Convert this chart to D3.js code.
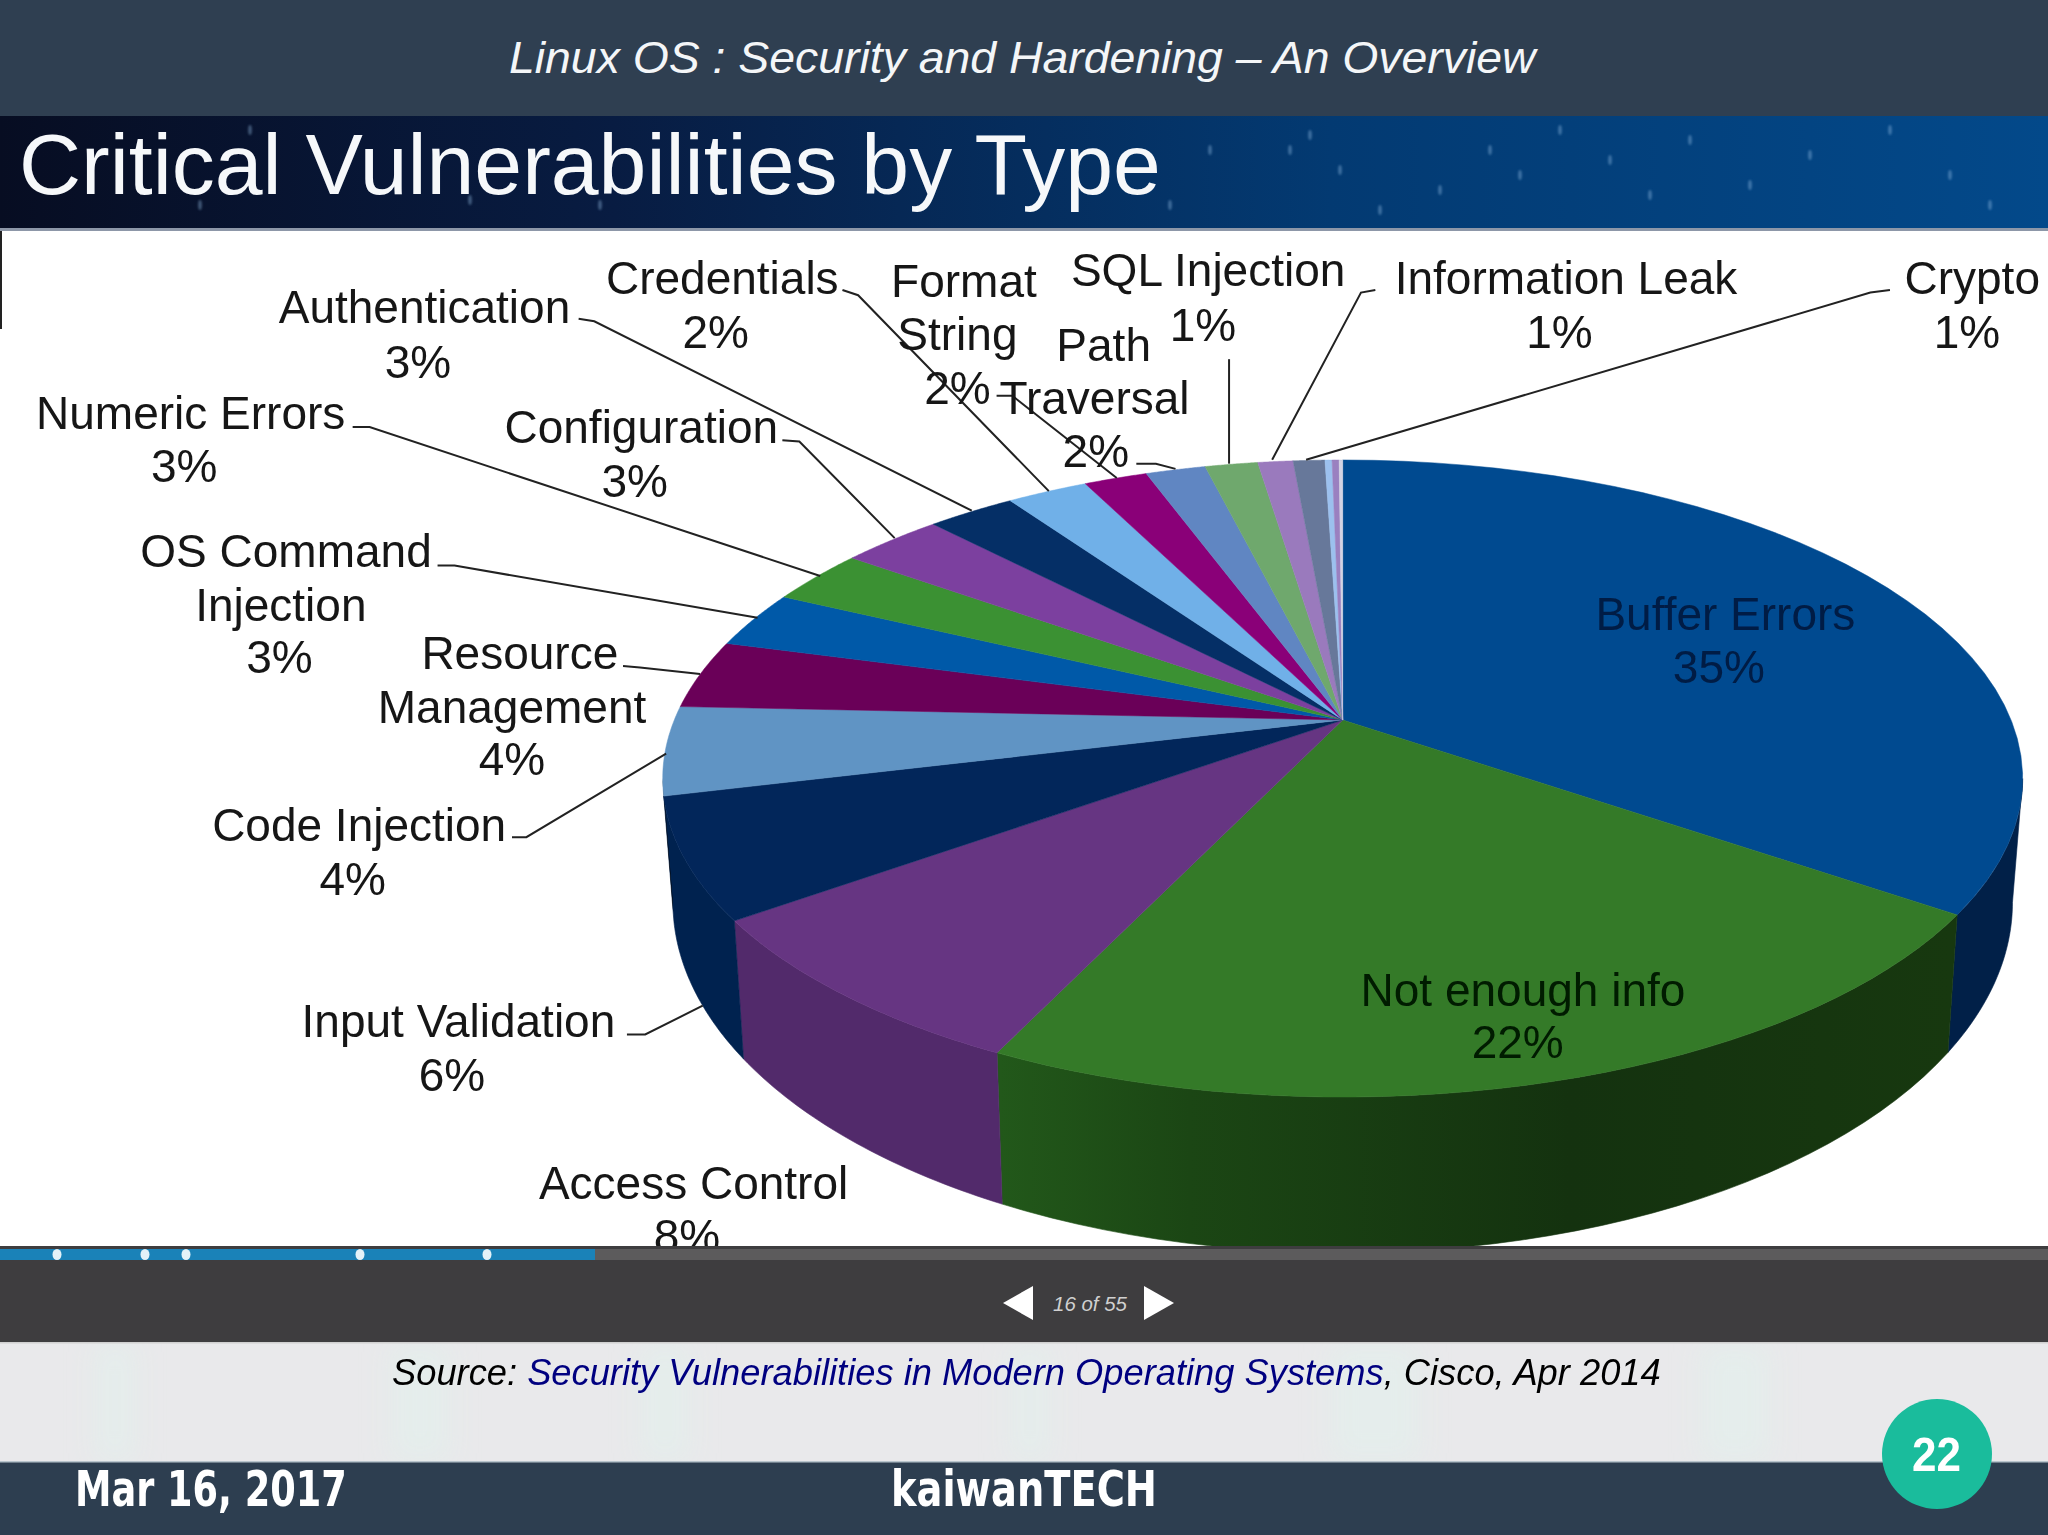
<!DOCTYPE html>
<html><head><meta charset="utf-8">
<script src="https://cdn.jsdelivr.net/npm/d3@7"></script>
<style>html,body{margin:0;padding:0;background:#fff}svg{display:block}text{font-family:"Liberation Sans",Arial,sans-serif}</style>
</head><body><svg id="c" width="2048" height="1535"></svg>
<script>
// ---- data ----
const sliceNames = ["Buffer Errors","Not enough info","Access Control","Input Validation","Code Injection","Resource Management","OS Command Injection","Numeric Errors","Configuration","Authentication","Credentials","Format String","Path Traversal","SQL Injection","Information Leak","Crypto","Other A","Other B","Other C"];
const sliceValues = [34.6,22.5,8.0,6.1,4.5,3.5,2.9,2.8,2.9,2.5,2.3,1.8,1.7,1.5,1.0,0.9,0.2,0.2,0.1];
const sliceColors = ["#004a90","#347a28","#663582","#02265a","#6094c4","#6a0058","#0059a8","#3b9133","#7c409f","#052f66","#70b0e8","#8a0078","#6086c2","#6fa86d","#9a7abd","#67789a","#9cc0ee","#9a80c0","#d4d4e4"];
const wallColors  = ["#012048","url(#greenWall)","#522a6b","#00224f"];
const labelLines = [
 ["Authentication","3%"],["Credentials","2%"],["Format","String","2%"],["SQL Injection","1%"],["Path","Traversal","2%"],["Information Leak","1%"],["Crypto","1%"],["Numeric Errors","3%"],["Configuration","3%"],["OS Command","Injection","3%"],["Resource","Management","4%"],["Code Injection","4%"],["Input Validation","6%"],["Access Control","8%"],["Buffer Errors","35%"],["Not enough info","22%"]];
// ---- layout (in the 1568-wide coordinates the slide was read in) ----
const labelCenters = [
 [[325,235],[320,277]],[[553,213],[548,254]],[[738,215],[733,256],[733,297]],[[925,207],[921,249]],[[845,264],[838,305],[839,345]],[[1199,213],[1194,254]],[[1510,213],[1506,254]],[[146,316],[141,357]],[[491,327],[486,368]],[[219,422],[215,463],[214,503]],[[398,500],[392,541],[392,581]],[[275,632],[270,673]],[[351,782],[346,823]],[[531,906],[526,946]],[[1321,470],[1316,511]],[[1166,758],[1162,798]]];
const leaders = [
 [[443,244],[455,246],[744,391]],[[645,222],[657,226],[803,376]],[[763,303],[775,303],[855,366]],[[870,355],[885,355],[900,359]],[[941,275],[941,355]],[[1053,222],[1042,224],[974,352]],[[1447,222],[1432,224],[1000,352]],[[270,327],[283,327],[628,441]],[[599,337],[612,338],[685,412]],[[335,433],[348,433],[580,473]],[[477,510],[490,511],[536,516]],[[392,641],[403,641],[510,577]],[[480,792],[494,792],[538,770]]];
const progressDots = [57,145,186,360,487];
const stars = [[1290,150],[1310,135],[1340,170],[1440,190],[1490,150],[1520,175],[1560,130],[1610,160],[1650,195],[1690,140],[1750,185],[1810,155],[1890,130],[1950,175],[1990,205],[200,205],[250,130],[470,200],[600,205],[1210,150],[1170,205],[1380,210]];
const bandStreaks = [[95,40],[390,60],[640,50],[1010,40],[1330,90],[1700,70]];

const svg = d3.select("#c");
const px = d3.scaleLinear().domain([0,1568]).range([0,2048]);
const defs = svg.append("defs");
const g1 = defs.append("linearGradient").attr("id","banner");
[[0,"#070d22"],[.3,"#081c42"],[.65,"#033a72"],[1,"#03498a"]].forEach(s=>g1.append("stop").attr("offset",s[0]).attr("stop-color",s[1]));
const g2 = defs.append("linearGradient").attr("id","greenWall").attr("gradientUnits","userSpaceOnUse").attr("x1",1000).attr("x2",1950).attr("y1",0).attr("y2",0);
[[0,"#22581a"],[.2,"#1b4614"],[.6,"#14320f"],[1,"#17380f"]].forEach(s=>g2.append("stop").attr("offset",s[0]).attr("stop-color",s[1]));
defs.append("filter").attr("id","soft").append("feGaussianBlur").attr("stdDeviation",.55);
defs.append("filter").attr("id","star").append("feGaussianBlur").attr("stdDeviation",1.1);
defs.append("filter").attr("id","wide").attr("x","-100%").attr("width","300%").append("feGaussianBlur").attr("stdDeviation",14);

function fit(sel,x,y,w){ // stretch a text to the width
  const len = sel.node().getComputedTextLength();
  sel.attr("transform",`translate(${x},${y}) scale(${w/len},1)`);
}
svg.append("rect").attr("width",2048).attr("height",1535).attr("fill","#fff");
// header
svg.append("rect").attr("width",2048).attr("height",116).attr("fill","#2f3f51");
fit(svg.append("text").text("Linux OS : Security and Hardening \u2013 An Overview").attr("font-size",44).attr("font-style","italic").attr("fill","#f4f6f8"),509,73,1027);
// banner
svg.append("rect").attr("y",116).attr("width",2048).attr("height",113).attr("fill","url(#banner)");
svg.append("g").attr("filter","url(#star)").selectAll("ellipse").data(stars).join("ellipse").attr("cx",d=>d[0]).attr("cy",d=>d[1]).attr("rx",1.8).attr("ry",5).attr("fill","#9cc4e8").attr("opacity",.4);
svg.append("rect").attr("y",228).attr("width",2048).attr("height",3).attr("fill","#8d97a8");
fit(svg.append("text").text("Critical Vulnerabilities by Type").attr("font-size",86).attr("fill","#f6f8fa").attr("filter","url(#soft)"),19,194,1142);
svg.append("rect").attr("y",231).attr("width",2).attr("height",98).attr("fill","#222");

// perspective projection of the pie's circle on to the slide
const apex = {x:px(1028),y:720}, A=668.4, B=307.8, K=0.1837;
const rim = a => { const u=Math.sin(a), v=-Math.cos(a), w=1-K*v; return [A*u/w, B*v/w]; };
const topRim = a => { const p=rim(a); return [apex.x+p[0], apex.y+p[1]]; };
const lowRim = a => { const p=rim(a); return [apex.x+p[0]*.985, apex.y+118+p[1]*1.1]; };
const line = d3.line();
const samples = (a0,a1) => d3.range(0,41).map(i=>a0+(a1-a0)*i/40);
const arcs = d3.pie().sort(null).value(d=>d).startAngle(0).endAngle(2*Math.PI)(sliceValues);
const WALL0 = 100.6*Math.PI/180, WALL1 = 259.4*Math.PI/180;
// side walls
const walls = arcs.map((d,i)=>({i,a0:Math.max(d.startAngle,WALL0),a1:Math.min(d.endAngle,WALL1)})).filter(d=>d.a1>d.a0);
svg.append("g").selectAll("path").data(walls).join("path")
  .attr("d",d=>{const s=samples(d.a0,d.a1); return line(s.map(topRim).concat(s.slice().reverse().map(lowRim)))+"Z";})
  .attr("fill",d=>wallColors[d.i]).attr("stroke",d=>wallColors[d.i]).attr("stroke-width",.6);
// top surface
svg.append("g").selectAll("path").data(arcs).join("path")
  .attr("d",d=>line([[apex.x,apex.y]].concat(samples(d.startAngle,d.endAngle).map(topRim)))+"Z")
  .attr("fill",(d,i)=>sliceColors[i]).attr("stroke",(d,i)=>sliceColors[i]).attr("stroke-width",.5);
// leader lines
const pl = d3.line().x(d=>px(d[0])).y(d=>px(d[1]));
svg.append("g").selectAll("path").data(leaders).join("path").attr("d",pl).attr("fill","none").attr("stroke","#222").attr("stroke-width",2);
// labels
const lg = svg.append("g").attr("filter","url(#soft)");
labelLines.forEach((lines,i)=>{
  lines.forEach((t,j)=>{
    const fill = i===14?"#001c44":i===15?"#021a02":"#141414";
    lg.append("text").text(t).attr("x",px(labelCenters[i][j][0])).attr("y",px(labelCenters[i][j][1])+16)
      .attr("text-anchor","middle").attr("font-size",46).attr("fill",fill);
  });
});
// source band (painted first so its soft streaks stay under the bars around it)
svg.append("rect").attr("y",1343).attr("width",2048).attr("height",119).attr("fill","#e9e9eb");
svg.append("g").attr("filter","url(#wide)").selectAll("rect").data(bandStreaks).join("rect").attr("x",d=>d[0]).attr("y",1343).attr("width",d=>d[1]).attr("height",119).attr("fill","#e2f2ee").attr("opacity",.5);
// player bar
svg.append("rect").attr("y",1246).attr("width",2048).attr("height",97).attr("fill","#3e3d3f");
svg.append("rect").attr("y",1249).attr("width",2048).attr("height",11).attr("fill","#5c5b5c");
svg.append("rect").attr("y",1249).attr("width",595).attr("height",11).attr("fill","#1a82b8");
svg.append("g").selectAll("ellipse").data(progressDots).join("ellipse").attr("cx",d=>d).attr("cy",1254.5).attr("rx",4.5).attr("ry",5.5).attr("fill","#e4f2f8");
svg.append("path").attr("d",line([[1003,1303],[1033,1286],[1033,1320]])+"Z").attr("fill","#fff");
svg.append("path").attr("d",line([[1174,1303],[1144,1286],[1144,1320]])+"Z").attr("fill","#fff");
fit(svg.append("text").text("16 of 55").attr("font-size",21).attr("font-style","italic").attr("fill","#d0d0d0"),1053,1311,74);
svg.append("rect").attr("y",1342).attr("width",2048).attr("height",1.5).attr("fill","#d0d0d0");
const src = svg.append("text").attr("font-size",37).attr("font-style","italic").attr("fill","#000");
src.append("tspan").text("Source: ");
src.append("tspan").text("Security Vulnerabilities in Modern Operating Systems").attr("fill","#000080");
src.append("tspan").text(", Cisco, Apr 2014");
fit(src,392,1385,1269);
// footer
svg.append("rect").attr("y",1462).attr("width",2048).attr("height",73).attr("fill","#2d3e50");
svg.append("rect").attr("y",1461).attr("width",2048).attr("height",1.5).attr("fill","#b8c4cc");
const ft = t => svg.append("text").text(t).attr("font-weight","bold").attr("font-size",49).attr("fill","#fff").style("font-family","DejaVu Sans");
fit(ft("Mar 16, 2017"),75,1506,272);
fit(ft("kaiwanTECH"),891,1506,266);
svg.append("ellipse").attr("cx",1937).attr("cy",1454).attr("rx",55).attr("ry",55).attr("fill","#1abc9c");
fit(svg.append("text").text("22").attr("font-size",48).attr("font-weight","bold").attr("fill","#fff"),1912,1471,49);
</script></body></html>
